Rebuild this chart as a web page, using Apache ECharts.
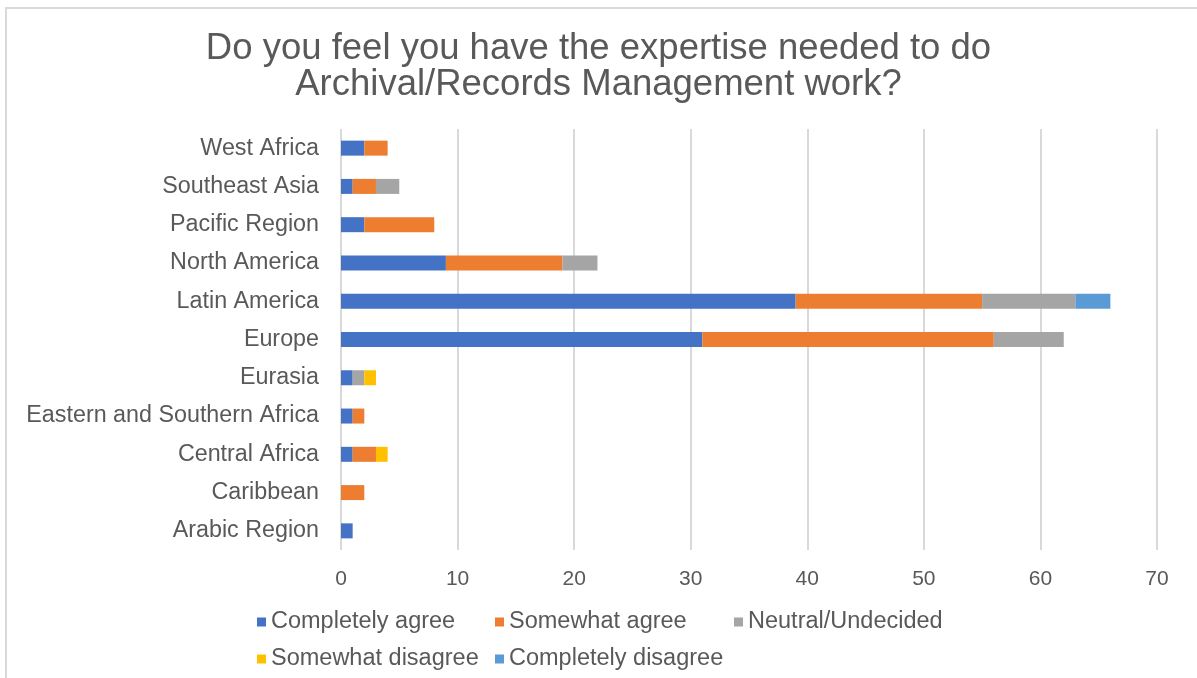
<!DOCTYPE html>
<html>
<head>
<meta charset="utf-8">
<script src="https://cdn.jsdelivr.net/npm/echarts@6/dist/echarts.min.js"></script>
<style>
  html, body { margin: 0; padding: 0; background: #fff; }
  #frame { position: absolute; left: 5px; top: 7px; width: 1200px; height: 680px;
           border-top: 2px solid #d9d9d9; border-left: 2px solid #d9d9d9; }
  #chart { position: absolute; left: 0; top: 0; width: 1197px; height: 678px; }
</style>
</head>
<body>
<div id="frame"></div>
<div id="chart"></div>
<script>
// Regions, listed top to bottom
const regions = ['West Africa', 'Southeast Asia', 'Pacific Region', 'North America', 'Latin America',
  'Europe', 'Eurasia', 'Eastern and Southern Africa', 'Central Africa', 'Caribbean', 'Arabic Region'];

const completelyAgree    = [2, 1, 2, 9, 39, 31, 1, 1, 1, 0, 1];
const somewhatAgree      = [2, 2, 6, 10, 16, 25, 0, 1, 2, 2, 0];
const neutralUndecided   = [0, 2, 0, 3, 8, 6, 1, 0, 0, 0, 0];
const somewhatDisagree   = [0, 0, 0, 0, 0, 0, 1, 0, 1, 0, 0];
const completelyDisagree = [0, 0, 0, 0, 3, 0, 0, 0, 0, 0, 0];

const seriesNames = ['Completely agree', 'Somewhat agree', 'Neutral/Undecided', 'Somewhat disagree', 'Completely disagree'];
const seriesData = [completelyAgree, somewhatAgree, neutralUndecided, somewhatDisagree, completelyDisagree];
const colors = ['#4472C4', '#ED7D31', '#A5A5A5', '#FFC000', '#5B9BD5'];

const FONT = '"Liberation Sans", Arial, sans-serif';
const TEXT = '#595959';

// legend placement: two rows of column-aligned items
const legendSpots = [
  { left: 252, top: 605 }, { left: 490, top: 605 }, { left: 729, top: 605 },
  { left: 252, top: 642 }, { left: 490, top: 642 }
];

const chart = echarts.init(document.getElementById('chart'));
chart.setOption({
  animation: false,
  color: colors,
  title: {
    text: 'Do you feel you have the expertise needed to do\nArchival/Records Management work?',
    left: 'center',
    top: 26,
    textStyle: { fontFamily: FONT, fontSize: 36.5, fontWeight: 'normal', color: TEXT, lineHeight: 36 }
  },
  legend: legendSpots.map((p, i) => ({
    data: [seriesNames[i]],
    left: p.left, top: p.top,
    icon: 'rect', itemWidth: 9, itemHeight: 9, itemGap: 0,
    textStyle: { fontFamily: FONT, fontSize: 23.5, color: TEXT, padding: [0, 0, 0, 0] },
    selectedMode: false
  })),
  grid: { left: 341, right: 40, top: 129, bottom: 128 },
  xAxis: {
    type: 'value', min: 0, max: 70, interval: 10,
    axisLine: { show: false }, axisTick: { show: false },
    axisLabel: { fontFamily: FONT, fontSize: 21, color: TEXT, margin: 19 },
    splitLine: { lineStyle: { color: '#d9d9d9', width: 2 } }
  },
  yAxis: {
    type: 'category', data: regions, inverse: true,
    axisLine: { show: false }, axisTick: { show: false },
    axisLabel: { fontFamily: FONT, fontSize: 23.3, color: TEXT, margin: 22 }
  },
  series: seriesNames.map((name, i) => ({
    name, type: 'bar', stack: 'total', barWidth: 15,
    data: seriesData[i],
    itemStyle: { color: colors[i] }
  }))
});
</script>
</body>
</html>
